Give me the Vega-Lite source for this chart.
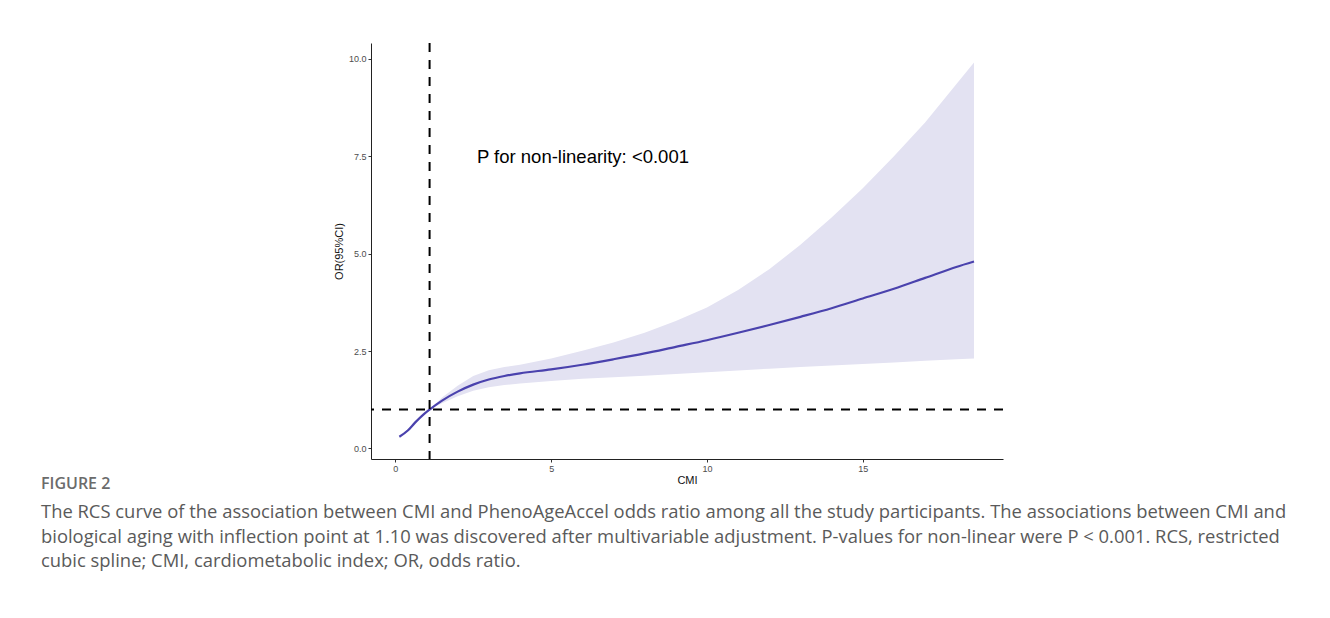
{
  "$schema": "https://vega.github.io/schema/vega-lite/v6.json",
  "autosize": {"type": "none"},
  "width": 632,
  "height": 416,
  "padding": {"left": 371, "top": 43, "right": 327, "bottom": 159},
  "background": "white",
  "config": {
    "view": {"stroke": null},
    "font": "Liberation Sans",
    "axis": {
      "grid": false,
      "domainColor": "#222222",
      "domainWidth": 1,
      "tickColor": "#333333",
      "tickSize": 3,
      "labelColor": "#4d4d4d",
      "labelFontSize": 9,
      "labelFont": "Liberation Sans",
      "titleFont": "Liberation Sans",
      "titleFontSize": 11,
      "titleFontWeight": "normal",
      "titleColor": "#111111",
      "labelPadding": 2
    }
  },
  "title": {
    "text": "FIGURE 2",
    "subtitle": [
      "The RCS curve of the association between CMI and PhenoAgeAccel odds ratio among all the study participants. The associations between CMI and",
      "biological aging with inflection point at 1.10 was discovered after multivariable adjustment. P-values for non-linear were P < 0.001. RCS, restricted",
      "cubic spline; CMI, cardiometabolic index; OR, odds ratio."
    ],
    "orient": "bottom",
    "anchor": "start",
    "frame": "group",
    "dx": -330,
    "offset": -9,
    "font": "Open Sans",
    "fontSize": 16,
    "fontWeight": 600,
    "color": "#6b6b6b",
    "subtitleFont": "Open Sans",
    "subtitleFontSize": 18.4,
    "subtitleColor": "#5a5a5a",
    "subtitleLineHeight": 24.5,
    "subtitlePadding": 11
  },
  "datasets": {
    "curve": [
      {"cmi": 0.13, "or": 0.3, "lo": 0.28, "hi": 0.32},
      {"cmi": 0.4, "or": 0.46, "lo": 0.44, "hi": 0.48},
      {"cmi": 0.64, "or": 0.67, "lo": 0.65, "hi": 0.69},
      {"cmi": 0.9, "or": 0.87, "lo": 0.86, "hi": 0.88},
      {"cmi": 1.1, "or": 1.0, "lo": 1.0, "hi": 1.0},
      {"cmi": 1.5, "or": 1.23, "lo": 1.16, "hi": 1.31},
      {"cmi": 2.0, "or": 1.46, "lo": 1.34, "hi": 1.61},
      {"cmi": 2.5, "or": 1.64, "lo": 1.48, "hi": 1.86},
      {"cmi": 3.0, "or": 1.77, "lo": 1.57, "hi": 2.01},
      {"cmi": 3.5, "or": 1.86, "lo": 1.63, "hi": 2.09},
      {"cmi": 4.0, "or": 1.93, "lo": 1.67, "hi": 2.15},
      {"cmi": 5.0, "or": 2.03, "lo": 1.73, "hi": 2.31},
      {"cmi": 6.0, "or": 2.15, "lo": 1.79, "hi": 2.51},
      {"cmi": 7.0, "or": 2.29, "lo": 1.83, "hi": 2.72},
      {"cmi": 8.0, "or": 2.44, "lo": 1.87, "hi": 2.97},
      {"cmi": 9.0, "or": 2.61, "lo": 1.91, "hi": 3.27},
      {"cmi": 10.0, "or": 2.78, "lo": 1.96, "hi": 3.62},
      {"cmi": 11.0, "or": 2.97, "lo": 2.0, "hi": 4.07},
      {"cmi": 12.0, "or": 3.17, "lo": 2.05, "hi": 4.6},
      {"cmi": 13.0, "or": 3.38, "lo": 2.09, "hi": 5.23},
      {"cmi": 14.0, "or": 3.6, "lo": 2.13, "hi": 5.93},
      {"cmi": 15.0, "or": 3.85, "lo": 2.17, "hi": 6.68},
      {"cmi": 16.0, "or": 4.1, "lo": 2.21, "hi": 7.5},
      {"cmi": 17.0, "or": 4.38, "lo": 2.25, "hi": 8.37},
      {"cmi": 18.0, "or": 4.66, "lo": 2.29, "hi": 9.35},
      {"cmi": 18.57, "or": 4.8, "lo": 2.31, "hi": 9.91}
    ],
    "refs": [{"cmi": 1.1, "or": 1.0}],
    "note": [{"cmi": 2.62, "or": 7.49, "label": "P for non-linearity: <0.001"}]
  },
  "layer": [
    {
      "data": {"name": "curve"},
      "mark": {"type": "area", "color": "#e3e2f2", "opacity": 1},
      "encoding": {
        "x": {"field": "cmi", "type": "quantitative", "scale": {"domain": [-0.78, 19.5], "nice": false, "zero": false}, "axis": {"values": [0, 5, 10, 15], "title": "CMI", "titlePadding": 1}},
        "y": {"field": "lo", "type": "quantitative", "scale": {"domain": [-0.27, 10.41], "nice": false, "zero": false}, "axis": {"values": [0, 2.5, 5, 7.5, 10], "format": ".1f", "title": "OR(95%CI)", "titlePadding": 4}},
        "y2": {"field": "hi"}
      }
    },
    {
      "data": {"name": "curve"},
      "mark": {"type": "line", "color": "#4a42ad", "strokeWidth": 2.2, "interpolate": "monotone"},
      "encoding": {
        "x": {"field": "cmi", "type": "quantitative"},
        "y": {"field": "or", "type": "quantitative"}
      }
    },
    {
      "data": {"name": "refs"},
      "mark": {"type": "rule", "color": "black", "strokeWidth": 2, "strokeDash": [9, 8]},
      "encoding": {"x": {"field": "cmi", "type": "quantitative"}}
    },
    {
      "data": {"name": "refs"},
      "mark": {"type": "rule", "color": "black", "strokeWidth": 2, "strokeDash": [9, 8]},
      "encoding": {"y": {"field": "or", "type": "quantitative"}}
    },
    {
      "data": {"name": "note"},
      "mark": {"type": "text", "align": "left", "baseline": "middle", "fontSize": 18.5, "font": "Liberation Sans", "color": "black"},
      "encoding": {
        "x": {"field": "cmi", "type": "quantitative"},
        "y": {"field": "or", "type": "quantitative"},
        "text": {"field": "label"}
      }
    }
  ]
}
